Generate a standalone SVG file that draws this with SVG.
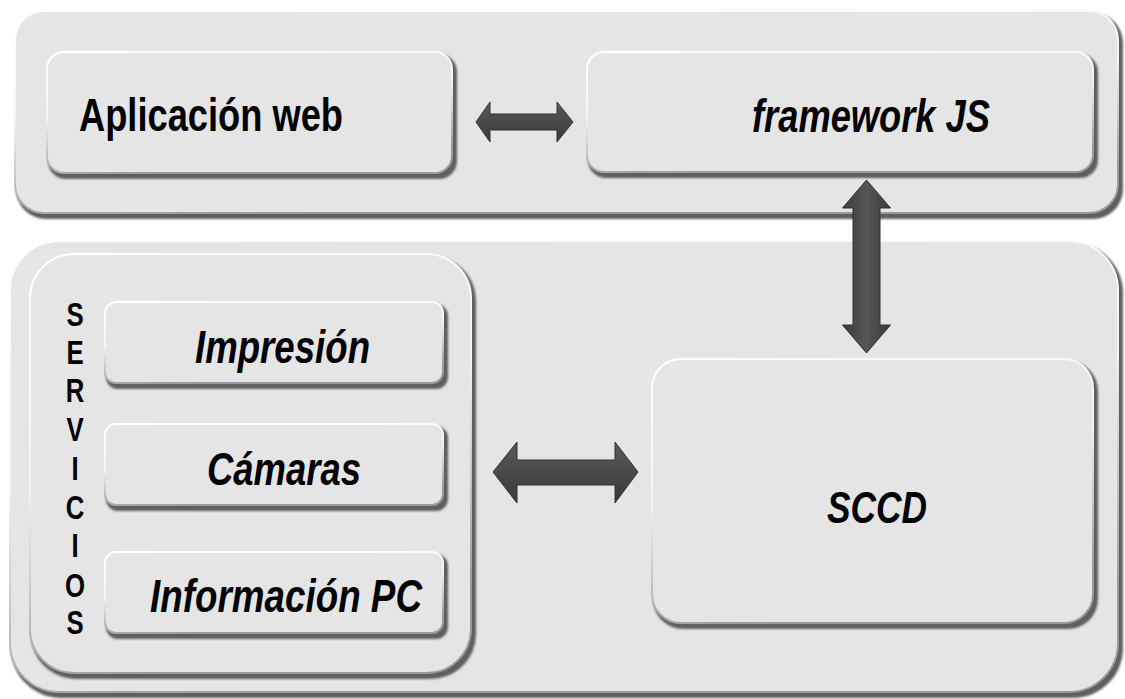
<svg xmlns="http://www.w3.org/2000/svg" width="1125" height="699" viewBox="0 0 1125 699">
<defs>
<filter id="soft" x="-5%" y="-5%" width="110%" height="110%"><feGaussianBlur stdDeviation="1.2"/></filter>
<linearGradient id="rimG" x1="0" y1="0" x2="0.3" y2="1"><stop offset="0" stop-color="#ffffff"/><stop offset="0.5" stop-color="#f4f4f4"/><stop offset="1" stop-color="#9a9a9a"/></linearGradient>
<linearGradient id="arrowV" x1="0" y1="0" x2="1" y2="0"><stop offset="0" stop-color="#3c3c3c"/><stop offset="0.5" stop-color="#555"/><stop offset="1" stop-color="#3a3a3a"/></linearGradient>
<linearGradient id="arrowH" x1="0" y1="0" x2="0" y2="1"><stop offset="0" stop-color="#5a5a5a"/><stop offset="0.5" stop-color="#4a4a4a"/><stop offset="1" stop-color="#383838"/></linearGradient>
</defs>
<style>
.bg{fill:#ffffff}
.shadow{fill:#5e5e5e;filter:url(#soft)}
.face{fill:#e5e5e5;stroke:url(#rimG);stroke-width:2}
.lbl{font-family:"Liberation Sans",Arial,sans-serif;font-weight:bold;fill:#000}
.it{font-style:italic}
.arr{stroke:#333;stroke-width:1}
</style>
<rect class="bg" x="0" y="0" width="1125" height="699"/>

<g id="top-layer">
<rect class="shadow" x="16" y="13" width="1107" height="206" rx="30"/>
<rect class="face" x="15" y="11" width="1103" height="202" rx="29"/>
</g>
<g id="aplicacion-web">
<rect class="shadow" x="48" y="54" width="409" height="125" rx="18"/>
<rect class="face" x="47" y="52" width="405" height="121" rx="17"/>
<text class="lbl" x="79" y="131" font-size="47" textLength="264" lengthAdjust="spacingAndGlyphs">Aplicación web</text>
</g>
<g id="framework-js">
<rect class="shadow" x="588" y="54" width="510" height="124" rx="18"/>
<rect class="face" x="587" y="52" width="506" height="120" rx="17"/>
<text class="lbl it" x="752" y="132" font-size="46" textLength="238" lengthAdjust="spacingAndGlyphs">framework JS</text>
</g>

<g id="bottom-layer">
<rect class="shadow" x="11" y="243" width="1112" height="455" rx="50"/>
<rect class="face" x="10" y="241" width="1108" height="451" rx="49"/>
</g>
<g id="servicios">
<rect class="shadow" x="31" y="256" width="445" height="423" rx="45"/>
<rect class="face" x="30" y="254" width="441" height="419" rx="44"/>
<g class="lbl" font-size="33" text-anchor="middle" transform="translate(75,0) scale(0.78,1)">
<text x="0" y="326">S</text>
<text x="0" y="364">E</text>
<text x="0" y="402">R</text>
<text x="0" y="441">V</text>
<text x="0" y="480">I</text>
<text x="0" y="519">C</text>
<text x="0" y="557">I</text>
<text x="0" y="597">O</text>
<text x="0" y="634">S</text>
</g>
</g>
<g id="impresion">
<rect class="shadow" x="106" y="304" width="342" height="85" rx="12"/>
<rect class="face" x="105" y="302" width="338" height="81" rx="11"/>
<text class="lbl it" x="195" y="363" font-size="46" textLength="175" lengthAdjust="spacingAndGlyphs">Impresión</text>
</g>
<g id="camaras">
<rect class="shadow" x="106" y="426" width="342" height="85" rx="12"/>
<rect class="face" x="105" y="424" width="338" height="81" rx="11"/>
<text class="lbl it" x="207" y="485" font-size="46" textLength="154" lengthAdjust="spacingAndGlyphs">Cámaras</text>
</g>
<g id="informacion-pc">
<rect class="shadow" x="106" y="554" width="342" height="85" rx="12"/>
<rect class="face" x="105" y="552" width="338" height="81" rx="11"/>
<text class="lbl it" x="150" y="612" font-size="46" textLength="272" lengthAdjust="spacingAndGlyphs">Información PC</text>
</g>
<g id="sccd">
<rect class="shadow" x="653" y="361" width="445" height="268" rx="30"/>
<rect class="face" x="652" y="359" width="441" height="264" rx="29"/>
<text class="lbl it" x="827" y="523" font-size="44" textLength="100" lengthAdjust="spacingAndGlyphs">SCCD</text>
</g>

<g id="connectors">
<polygon class="arr" fill="url(#arrowH)" points="476,122 490,102 490,114 557,114 557,102 573,122 557,142 557,130 490,130 490,142"/>
<polygon class="arr" fill="url(#arrowV)" points="866.5,180 890.5,208 880,208 880,325 890.5,325 866.5,353 842.5,325 853,325 853,208 842.5,208"/>
<polygon class="arr" fill="url(#arrowH)" points="493,472 517,442 517,460 615,460 615,442 638,472 615,503 615,485 517,485 517,503"/>
</g>
</svg>
